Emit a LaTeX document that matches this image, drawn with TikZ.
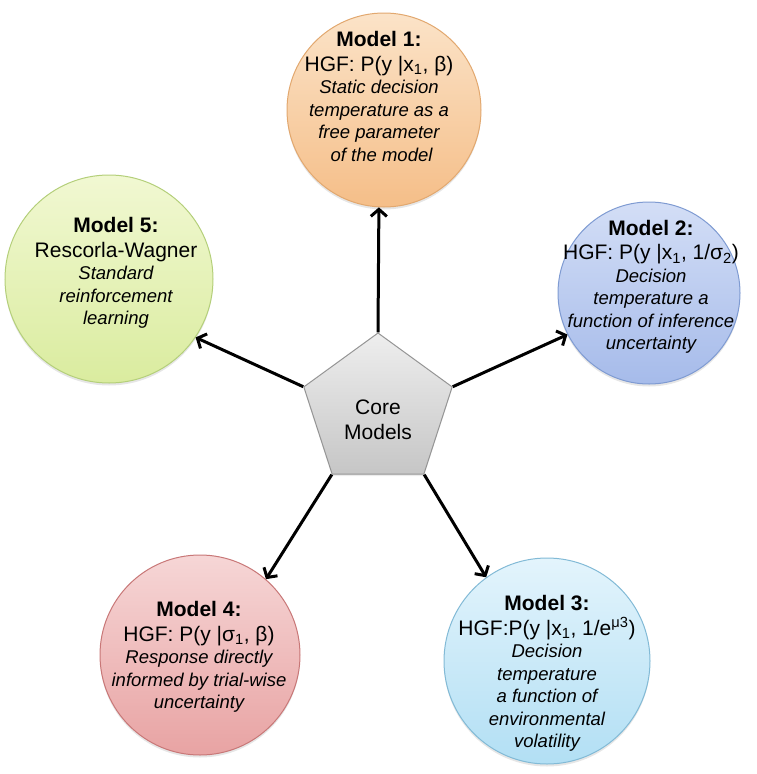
\documentclass[tikz,border=0pt]{standalone}
\usepackage{fontspec}
\setmainfont{Liberation Sans}
\usetikzlibrary{shapes.geometric,arrows.meta,shadows}

\definecolor{oneTop}{HTML}{FBE3C8}
\definecolor{oneBot}{HTML}{F5BE88}
\definecolor{oneLine}{HTML}{E2A86F}
\definecolor{twoTop}{HTML}{D3DEF6}
\definecolor{twoBot}{HTML}{A6BBEA}
\definecolor{twoLine}{HTML}{7F9BD2}
\definecolor{threeTop}{HTML}{E3F4FC}
\definecolor{threeBot}{HTML}{B2DFF4}
\definecolor{threeLine}{HTML}{82BAD6}
\definecolor{fourTop}{HTML}{F6D6D6}
\definecolor{fourBot}{HTML}{E8A3A3}
\definecolor{fourLine}{HTML}{C87777}
\definecolor{fiveTop}{HTML}{F1F8D2}
\definecolor{fiveBot}{HTML}{DAEC9F}
\definecolor{fiveLine}{HTML}{B4CF7A}
\definecolor{coreTop}{HTML}{EEEEEE}
\definecolor{coreBot}{HTML}{C6C6C6}
\definecolor{coreLine}{HTML}{959595}

\newcommand{\modeldesc}{\fontsize{18.5}{22.5}\selectfont\itshape}

\begin{document}
\begin{tikzpicture}[x=1pt,y=1pt]
\tikzstyle{model}=[circle, inner sep=0pt, line width=1pt, drop shadow={shadow xshift=0pt, shadow yshift=-2.5pt, opacity=0.2}]
\tikzstyle{modeltext}=[anchor=north, inner sep=0pt, align=center, font=\fontsize{21}{22.5}\selectfont]
\tikzstyle{link}=[line width=3pt, -{Straight Barb[length=7pt,width=16pt]}]
\useasboundingbox (0,0) rectangle (756,-774);
% centre and models
\node [regular polygon, regular polygon sides=5, minimum size=156pt, inner sep=0pt, line width=1pt, draw=coreLine, top color=coreTop, bottom color=coreBot, drop shadow={shadow xshift=0pt, shadow yshift=-2pt, opacity=0.15}] (core) at (378,-411) {};
\node [modeltext] (coretxt) at (378,-400) {Core\\[2.5pt]Models};
\node [model, minimum size=194pt, draw=oneLine, top color=oneTop, bottom color=oneBot] (m1) at (384,-110) {};
\node [model, minimum size=182pt, draw=twoLine, top color=twoTop, bottom color=twoBot] (m2) at (649,-293) {};
\node [model, minimum size=206pt, draw=threeLine, top color=threeTop, bottom color=threeBot] (m3) at (547,-661) {};
\node [model, minimum size=200pt, draw=fourLine, top color=fourTop, bottom color=fourBot] (m4) at (200,-655) {};
\node [model, minimum size=208pt, draw=fiveLine, top color=fiveTop, bottom color=fiveBot] (m5) at (109,-279) {};
% texts
\node [modeltext] (t1) at (379,-31.5) {\textbf{Model 1:}\\[2pt]
  HGF: P(y |x\textsubscript{1}, β)\\
  {\modeldesc Static decision}\\
  {\modeldesc temperature as a}\\
  {\modeldesc free parameter}\\
  {\modeldesc \ of the model}};
\node [modeltext] (t2) at (651,-220) {\textbf{Model 2:}\\[2pt]
  HGF: P(y |x\textsubscript{1}, 1/σ\textsubscript{2})\\
  {\modeldesc Decision}\\
  {\modeldesc temperature a}\\
  {\modeldesc function of inference}\\
  {\modeldesc uncertainty}};
\node [modeltext] (t3) at (547,-595.5) {\textbf{Model 3:}\\[2pt]
  HGF:P(y |x\textsubscript{1}, 1/e\textsuperscript{μ3})\\
  {\modeldesc Decision}\\
  {\modeldesc temperature}\\
  {\modeldesc a function of}\\
  {\modeldesc environmental}\\
  {\modeldesc volatility}};
\node [modeltext] (t4) at (199,-601.5) {\textbf{Model 4:}\\[2pt]
  HGF: P(y |σ\textsubscript{1}, β)\\
  {\modeldesc Response directly}\\
  {\modeldesc informed by trial-wise}\\
  {\modeldesc uncertainty}};
\node [modeltext] (t5) at (116,-217.5) {\textbf{Model 5:}\\[2pt]
  Rescorla-Wagner\\
  {\modeldesc Standard}\\
  {\modeldesc reinforcement}\\
  {\modeldesc learning}};
% arrows
\draw [link] (core.corner 1) -- (m1.267);
\draw [link] (core.corner 5) -- (m2.207);
\draw [link] (core.corner 4) -- (m3.126);
\draw [link] (core.corner 3) -- (m4.49);
\draw [link] (core.corner 2) -- (m5.326);
\end{tikzpicture}
\end{document}
